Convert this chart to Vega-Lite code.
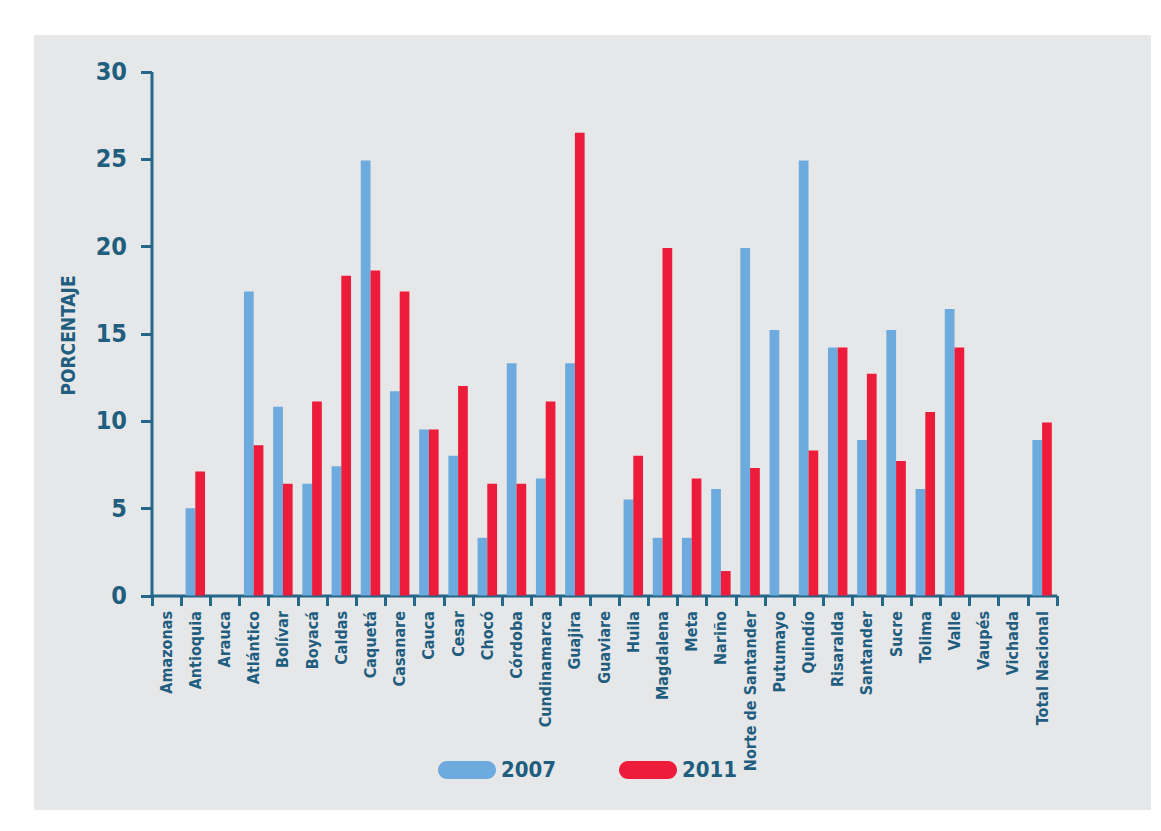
{
  "$schema": "https://vega.github.io/schema/vega-lite/v6.json",
  "width": 1117,
  "height": 775,
  "autosize": {"type": "none"},
  "padding": {"left": 34, "top": 35, "right": 10, "bottom": 21},
  "background": "#FFFFFF",
  "config": {
    "view": {"fill": "#E6E7E9", "stroke": null},
    "font": "DejaVu Sans Condensed, Liberation Sans Narrow, sans-serif"
  },
  "data": {
    "values": [
      {"departamento": "Antioquia", "anio": "2007", "valor": 5.0},
      {"departamento": "Antioquia", "anio": "2011", "valor": 7.1},
      {"departamento": "Atlántico", "anio": "2007", "valor": 17.4},
      {"departamento": "Atlántico", "anio": "2011", "valor": 8.6},
      {"departamento": "Bolívar", "anio": "2007", "valor": 10.8},
      {"departamento": "Bolívar", "anio": "2011", "valor": 6.4},
      {"departamento": "Boyacá", "anio": "2007", "valor": 6.4},
      {"departamento": "Boyacá", "anio": "2011", "valor": 11.1},
      {"departamento": "Caldas", "anio": "2007", "valor": 7.4},
      {"departamento": "Caldas", "anio": "2011", "valor": 18.3},
      {"departamento": "Caquetá", "anio": "2007", "valor": 24.9},
      {"departamento": "Caquetá", "anio": "2011", "valor": 18.6},
      {"departamento": "Casanare", "anio": "2007", "valor": 11.7},
      {"departamento": "Casanare", "anio": "2011", "valor": 17.4},
      {"departamento": "Cauca", "anio": "2007", "valor": 9.5},
      {"departamento": "Cauca", "anio": "2011", "valor": 9.5},
      {"departamento": "Cesar", "anio": "2007", "valor": 8.0},
      {"departamento": "Cesar", "anio": "2011", "valor": 12.0},
      {"departamento": "Chocó", "anio": "2007", "valor": 3.3},
      {"departamento": "Chocó", "anio": "2011", "valor": 6.4},
      {"departamento": "Córdoba", "anio": "2007", "valor": 13.3},
      {"departamento": "Córdoba", "anio": "2011", "valor": 6.4},
      {"departamento": "Cundinamarca", "anio": "2007", "valor": 6.7},
      {"departamento": "Cundinamarca", "anio": "2011", "valor": 11.1},
      {"departamento": "Guajira", "anio": "2007", "valor": 13.3},
      {"departamento": "Guajira", "anio": "2011", "valor": 26.5},
      {"departamento": "Huila", "anio": "2007", "valor": 5.5},
      {"departamento": "Huila", "anio": "2011", "valor": 8.0},
      {"departamento": "Magdalena", "anio": "2007", "valor": 3.3},
      {"departamento": "Magdalena", "anio": "2011", "valor": 19.9},
      {"departamento": "Meta", "anio": "2007", "valor": 3.3},
      {"departamento": "Meta", "anio": "2011", "valor": 6.7},
      {"departamento": "Nariño", "anio": "2007", "valor": 6.1},
      {"departamento": "Nariño", "anio": "2011", "valor": 1.4},
      {"departamento": "Norte de Santander", "anio": "2007", "valor": 19.9},
      {"departamento": "Norte de Santander", "anio": "2011", "valor": 7.3},
      {"departamento": "Putumayo", "anio": "2007", "valor": 15.2},
      {"departamento": "Quindío", "anio": "2007", "valor": 24.9},
      {"departamento": "Quindío", "anio": "2011", "valor": 8.3},
      {"departamento": "Risaralda", "anio": "2007", "valor": 14.2},
      {"departamento": "Risaralda", "anio": "2011", "valor": 14.2},
      {"departamento": "Santander", "anio": "2007", "valor": 8.9},
      {"departamento": "Santander", "anio": "2011", "valor": 12.7},
      {"departamento": "Sucre", "anio": "2007", "valor": 15.2},
      {"departamento": "Sucre", "anio": "2011", "valor": 7.7},
      {"departamento": "Tolima", "anio": "2007", "valor": 6.1},
      {"departamento": "Tolima", "anio": "2011", "valor": 10.5},
      {"departamento": "Valle", "anio": "2007", "valor": 16.4},
      {"departamento": "Valle", "anio": "2011", "valor": 14.2},
      {"departamento": "Total Nacional", "anio": "2007", "valor": 8.9},
      {"departamento": "Total Nacional", "anio": "2011", "valor": 9.9}
    ]
  },
  "mark": {"type": "bar"},
  "encoding": {
    "x": {
      "field": "departamento",
      "type": "nominal",
      "sort": null,
      "scale": {
        "domain": ["Amazonas", "Antioquia", "Arauca", "Atlántico", "Bolívar", "Boyacá", "Caldas", "Caquetá", "Casanare", "Cauca", "Cesar", "Chocó", "Córdoba", "Cundinamarca", "Guajira", "Guaviare", "Huila", "Magdalena", "Meta", "Nariño", "Norte de Santander", "Putumayo", "Quindío", "Risaralda", "Santander", "Sucre", "Tolima", "Valle", "Vaupés", "Vichada", "Total Nacional"],
        "range": [117.5, 1022.7],
        "paddingInner": 0,
        "paddingOuter": 0
      },
      "axis": {
        "title": null,
        "domain": true,
        "domainWidth": 3,
        "domainColor": "#246789",
        "grid": false,
        "offset": -214.5,
        "tickBand": "extent",
        "tickSize": 10,
        "tickWidth": 3,
        "tickColor": "#246789",
        "labelAngle": -90,
        "labelAlign": "right",
        "labelBaseline": "middle",
        "labelPadding": 5,
        "labelFontSize": 16,
        "labelFontWeight": "bold",
        "labelColor": "#1F5E7E",
        "labelOverlap": false,
        "labelLimit": 0
      }
    },
    "xOffset": {
      "field": "anio",
      "type": "nominal",
      "scale": {"paddingInner": 0, "paddingOuter": 0.5}
    },
    "y": {
      "field": "valor",
      "type": "quantitative",
      "scale": {"domain": [0, 30], "nice": false, "range": [560.5, 36.5]},
      "axis": {
        "title": "PORCENTAJE",
        "titleFontSize": 19,
        "titleFontWeight": "bold",
        "titleColor": "#1F5E7E",
        "titleX": -83.5,
        "titleY": 300,
        "titleAngle": -90,
        "titleAlign": "center",
        "titleBaseline": "middle",
        "values": [0, 5, 10, 15, 20, 25, 30],
        "domain": true,
        "domainWidth": 3,
        "domainColor": "#246789",
        "grid": false,
        "offset": -117.5,
        "tickSize": 11,
        "tickWidth": 3,
        "tickColor": "#246789",
        "labelPadding": 14,
        "labelFontSize": 25,
        "labelFontWeight": "bold",
        "labelColor": "#1F5E7E"
      }
    },
    "color": {
      "field": "anio",
      "type": "nominal",
      "scale": {"domain": ["2007", "2011"], "range": ["#6DAADD", "#ED1C3A"]},
      "legend": {
        "title": null,
        "orient": "none",
        "legendX": 404,
        "legendY": 706,
        "direction": "horizontal",
        "padding": 0,
        "symbolType": "M-0.69,-0.31L0.69,-0.31A0.31,0.31 0 0 1 0.69,0.31L-0.69,0.31A0.31,0.31 0 0 1 -0.69,-0.31Z",
        "symbolSize": 3364,
        "symbolStrokeWidth": 0,
        "symbolOpacity": 1,
        "labelFontSize": 22,
        "labelFontWeight": "bold",
        "labelColor": "#1F5E7E",
        "labelOffset": 5,
        "columnPadding": 62
      }
    }
  }
}
